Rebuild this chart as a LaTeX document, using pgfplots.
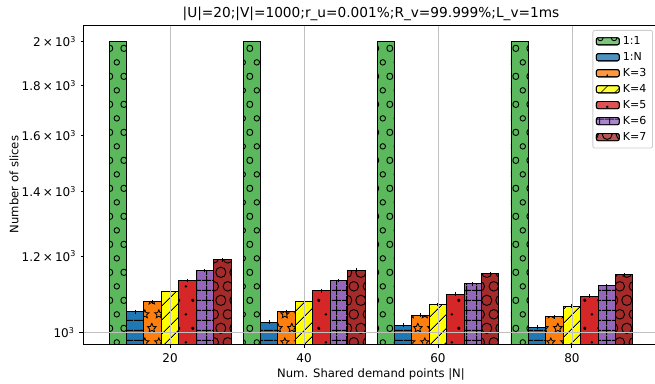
\documentclass[border=0pt]{standalone}
\usepackage{fontspec}
\setmainfont{DejaVu Sans}
\usepackage{pgfplots}
\pgfplotsset{compat=1.18}
\usetikzlibrary{patterns,patterns.meta}

\definecolor{cgreen}{HTML}{5CB85C}
\definecolor{cblue}{HTML}{1F77B4}
\definecolor{corange}{HTML}{FF7F0E}
\definecolor{cyellow}{HTML}{FFFF00}
\definecolor{cred}{HTML}{D62728}
\definecolor{cpurple}{HTML}{9467BD}
\definecolor{cdarkred}{HTML}{A52A2A}
\definecolor{gridgray}{HTML}{C0C0C0}
\definecolor{leggray}{HTML}{CCCCCC}

\tikzdeclarepattern{
  name=mplsmallcircles, type=uncolored,
  bounding box={(0pt,0pt) and (13.8pt,27.6pt)},
  tile size={(13.8pt,27.6pt)},
  code={
    \draw[line width=0.9pt] (0pt,0pt) circle (2.76pt) (13.8pt,0pt) circle (2.76pt)
      (0pt,27.6pt) circle (2.76pt) (13.8pt,27.6pt) circle (2.76pt) (6.9pt,13.8pt) circle (2.76pt);
  }
}
\tikzdeclarepattern{
  name=mplbigcircles, type=uncolored,
  bounding box={(0pt,0pt) and (13.8pt,27.6pt)},
  tile size={(13.8pt,27.6pt)},
  code={
    \draw[line width=0.9pt] (0pt,0pt) circle (4.83pt) (13.8pt,0pt) circle (4.83pt)
      (0pt,27.6pt) circle (4.83pt) (13.8pt,27.6pt) circle (4.83pt) (6.9pt,13.8pt) circle (4.83pt);
  }
}
\tikzdeclarepattern{
  name=mpldots, type=uncolored,
  bounding box={(0pt,0pt) and (13.8pt,27.6pt)},
  tile size={(13.8pt,27.6pt)},
  code={
    \fill (0pt,0pt) circle (1.4pt) (13.8pt,0pt) circle (1.4pt)
      (0pt,27.6pt) circle (1.4pt) (13.8pt,27.6pt) circle (1.4pt) (6.9pt,13.8pt) circle (1.4pt);
  }
}
\newcommand\mplstar[2]{\draw[line width=0.8pt,shift={(#1,#2)}] (90:4.4pt) -- (126:2pt) -- (162:4.4pt) -- (198:2pt) -- (234:4.4pt) -- (270:2pt) -- (306:4.4pt) -- (342:2pt) -- (18:4.4pt) -- (54:2pt) -- cycle;}
\tikzdeclarepattern{
  name=mplstars, type=uncolored,
  bounding box={(0pt,0pt) and (13.8pt,27.6pt)},
  tile size={(13.8pt,27.6pt)},
  code={
    \mplstar{0pt}{0pt}\mplstar{13.8pt}{0pt}\mplstar{0pt}{27.6pt}\mplstar{13.8pt}{27.6pt}\mplstar{6.9pt}{13.8pt}
  }
}
\tikzdeclarepattern{
  name=mplhlines, type=uncolored,
  bounding box={(0pt,0pt) and (9.6pt,9.6pt)},
  tile size={(9.6pt,9.6pt)},
  code={\draw[line width=0.9pt] (0pt,4.8pt) -- (9.6pt,4.8pt);}
}
\tikzdeclarepattern{
  name=mplgrid, type=uncolored,
  bounding box={(0pt,0pt) and (9.6pt,9.6pt)},
  tile size={(9.6pt,9.6pt)},
  code={\draw[line width=0.9pt] (0pt,4.8pt) -- (9.6pt,4.8pt) (4.8pt,0pt) -- (4.8pt,9.6pt);}
}
\tikzdeclarepattern{
  name=mpldiag, type=uncolored,
  bounding box={(0pt,0pt) and (9.76pt,9.76pt)},
  tile size={(9.76pt,9.76pt)},
  tile transformation={rotate=45},
  code={\draw[line width=0.9pt] (0pt,4.88pt) -- (9.76pt,4.88pt);}
}

\pgfplotsset{
  mybar/.style n args={2}{ybar, bar width=2.6, bar shift=0pt,
    draw=black, line width=0.9pt,
    preaction={fill=#1}, pattern=#2, pattern color=black,
    legend image code/.code={\draw[##1] (0pt,-3.6pt) rectangle (23pt,3.6pt);}},
}

\begin{document}
\begin{tikzpicture}
\begin{axis}[
  at={(83pt,39pt)}, anchor=south west,
  scale only axis, width=576pt, height=319pt,
  xmin=7, xmax=93,
  ymode=log, ymin=974, ymax=2081, log origin y=infty,
  xtick={20,40,60,80},
  ytick={1000}, yticklabels={10\textsuperscript{3}},
  extra y ticks={1200,1400,1600,1800,2000},
  extra y tick labels={1.2\kern0.18em×\kern0.18em10\textsuperscript{3},1.4\kern0.18em×\kern0.18em10\textsuperscript{3},1.6\kern0.18em×\kern0.18em10\textsuperscript{3},1.8\kern0.18em×\kern0.18em10\textsuperscript{3},2\kern0.18em×\kern0.18em10\textsuperscript{3}},
  extra y tick style={grid=none, major tick length=2.5pt},
  yminorticks=false, xminorticks=false,
  xmajorgrids, ymajorgrids,
  grid style={gridgray, line width=0.8pt},
  axis on top,
  tick align=outside, major tick length=4pt,
  tick pos=left,
  tick style={black, line width=0.9pt},
  axis line style={line width=0.9pt},
  /pgf/number format/assume math mode=true,
  tick label style={font=\fontsize{12}{14}\selectfont},
  xticklabel style={anchor=north, yshift=-2pt},
  yticklabel style={anchor=east, xshift=-1pt},
  label style={font=\fontsize{11.6}{13}\selectfont},
  title style={font=\fontsize{13.7}{16}\selectfont, at={(axis description cs:0.5,1)}, anchor=base, yshift=1pt},
  title={|U|=20;|V|=1000;r\_u=0.001\%;R\_v=99.999\%;L\_v=1ms},
  xlabel={Num. Shared demand points |N|},
  xlabel style={at={(axis description cs:0.5,0)}, anchor=base, yshift=-33.5pt},
  ylabel={Number of slices},
  ylabel style={at={([xshift=-64.7pt]axis description cs:0,0.5)}, anchor=base, rotate=0},
  error bars/y dir=both, error bars/y explicit,
  error bars/error mark=none,
  error bars/error bar style={black, line width=1pt},
  legend style={font=\fontsize{11}{13}\selectfont, draw=leggray, line width=0.8pt,
    rounded corners=2pt, fill=white, fill opacity=0.8, text opacity=1,
    at={(1,1)}, anchor=north east, xshift=-6pt, yshift=-5pt,
    inner sep=3pt, nodes={inner sep=3.2pt}},
  legend cell align=left,
]
\addplot[mybar={cgreen}{mplsmallcircles}] coordinates {(12.2,2000) +- (0,0) (32.2,2000) +- (0,0) (52.2,2000) +- (0,0) (72.2,2000) +- (0,0)};
\addlegendentry{1:1}
\addplot[mybar={cblue}{mplhlines}] coordinates {(14.8,1052) +- (0,5) (34.8,1026) +- (0,5) (54.8,1018) +- (0,5) (74.8,1014) +- (0,5)};
\addlegendentry{1:N}
\addplot[mybar={corange}{mplstars}] coordinates {(17.4,1077) +- (0,5) (37.4,1052) +- (0,5) (57.4,1043) +- (0,5) (77.4,1039) +- (0,5)};
\addlegendentry{K=3}
\addplot[mybar={cyellow}{mpldiag}] coordinates {(20,1104) +- (0,5) (40,1078) +- (0,5) (60,1070) +- (0,5) (80,1065) +- (0,5)};
\addlegendentry{K=4}
\addplot[mybar={cred}{mpldots}] coordinates {(22.6,1133) +- (0,5) (42.6,1105) +- (0,5) (62.6,1096) +- (0,5) (82.6,1091) +- (0,5)};
\addlegendentry{K=5}
\addplot[mybar={cpurple}{mplgrid}] coordinates {(25.2,1160) +- (0,5) (45.2,1133) +- (0,5) (65.2,1124) +- (0,5) (85.2,1119) +- (0,5)};
\addlegendentry{K=6}
\addplot[mybar={cdarkred}{mplbigcircles}] coordinates {(27.8,1190) +- (0,5) (47.8,1161) +- (0,5) (67.8,1152) +- (0,5) (87.8,1148) +- (0,5)};
\addlegendentry{K=7}
\end{axis}
\pgfresetboundingbox
\useasboundingbox (0pt,0pt) rectangle (655pt,383pt);
\end{tikzpicture}
\end{document}
